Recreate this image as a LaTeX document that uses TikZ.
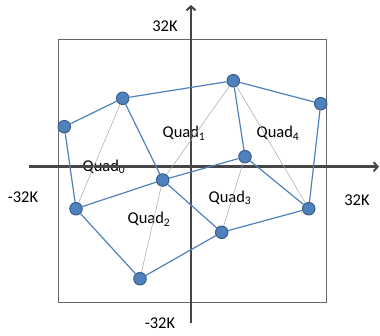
\documentclass[tikz,border=0pt]{standalone}
\usepackage{fontspec}
\setmainfont{Carlito}
\usetikzlibrary{arrows.meta}
\definecolor{ptBlue}{RGB}{79,129,189}
\definecolor{ptEdge}{RGB}{56,93,138}
\definecolor{axGray}{RGB}{70,70,70}

\begin{document}
\begin{tikzpicture}[
				x=1pt, y=-1pt,
				pt/.style={circle, draw=ptEdge, fill=ptBlue, line width=1pt, inner sep=0pt, minimum size=12.5pt},
				blueline/.style={ptBlue, line width=1.2pt},
				diag/.style={gray!70, line width=0.5pt},
				axis/.style={axGray, line width=2.8pt, -{Straight Barb[length=4pt, width=9pt, line width=2pt]}},
				lbl/.style={font=\fontsize{16.5}{18}\selectfont, inner sep=1pt},
				quadlbl/.style={font=\fontsize{16.5}{18}\selectfont, inner sep=0pt}
			]
				\useasboundingbox (0,0) rectangle (380,335);
				\draw[gray!80!black, line width=0.8pt] (58.7,39.3) rectangle (326,302.3);

				% region labels
				\node[quadlbl] (q0) at (104,167) {Quad\textsubscript{0}};
				\node[quadlbl] (q1) at (184,133) {Quad\textsubscript{1}};
				\node[quadlbl] (q4) at (278,133) {Quad\textsubscript{4}};
				\node[quadlbl] (q3) at (230,198) {Quad\textsubscript{3}};
				\node[quadlbl] (q2) at (149,219) {Quad\textsubscript{2}};

				% axes
				\coordinate (xl) at (29,166.7);
				\coordinate (xr) at (379,166.7);
				\coordinate (yb) at (191,323);
				\coordinate (yt) at (191,5);
				\draw[axis] (xl) -- (xr);
				\draw[axis] (yb) -- (yt);

				\node[lbl] (ytop) at (165,26) {32K};
				\node[lbl] (ybot) at (160,323) {-32K};
				\node[lbl] (xleft) at (23,197) {-32K};
				\node[lbl] (xright) at (357,200) {32K};

				% points
				\node[pt] (a) at (64.3,126.7) {};
				\node[pt] (b) at (122.7,98.3) {};
				\node[pt] (c) at (233.3,80.7) {};
				\node[pt] (d) at (320.7,103.7) {};
				\node[pt] (e) at (245,156.7) {};
				\node[pt] (f) at (162.7,180) {};
				\node[pt] (g) at (76,208.7) {};
				\node[pt] (h) at (308.7,208.7) {};
				\node[pt] (i) at (221.7,232.3) {};
				\node[pt] (j) at (140,278.7) {};

				% diagonals
				\draw[diag] (b) -- (g);
				\draw[diag] (c) -- (f);
				\draw[diag] (c) -- (h);
				\draw[diag] (e) -- (i);
				\draw[diag] (f) -- (j);

				% quad edges
				\draw[blueline] (a) -- (b) -- (c) -- (d);
				\draw[blueline] (a) -- (g) -- (j) -- (i) -- (h) -- (d);
				\draw[blueline] (g) -- (f) -- (e);
				\draw[blueline] (b) -- (f) -- (i);
				\draw[blueline] (c) -- (e) -- (h);
			\end{tikzpicture}
\end{document}
